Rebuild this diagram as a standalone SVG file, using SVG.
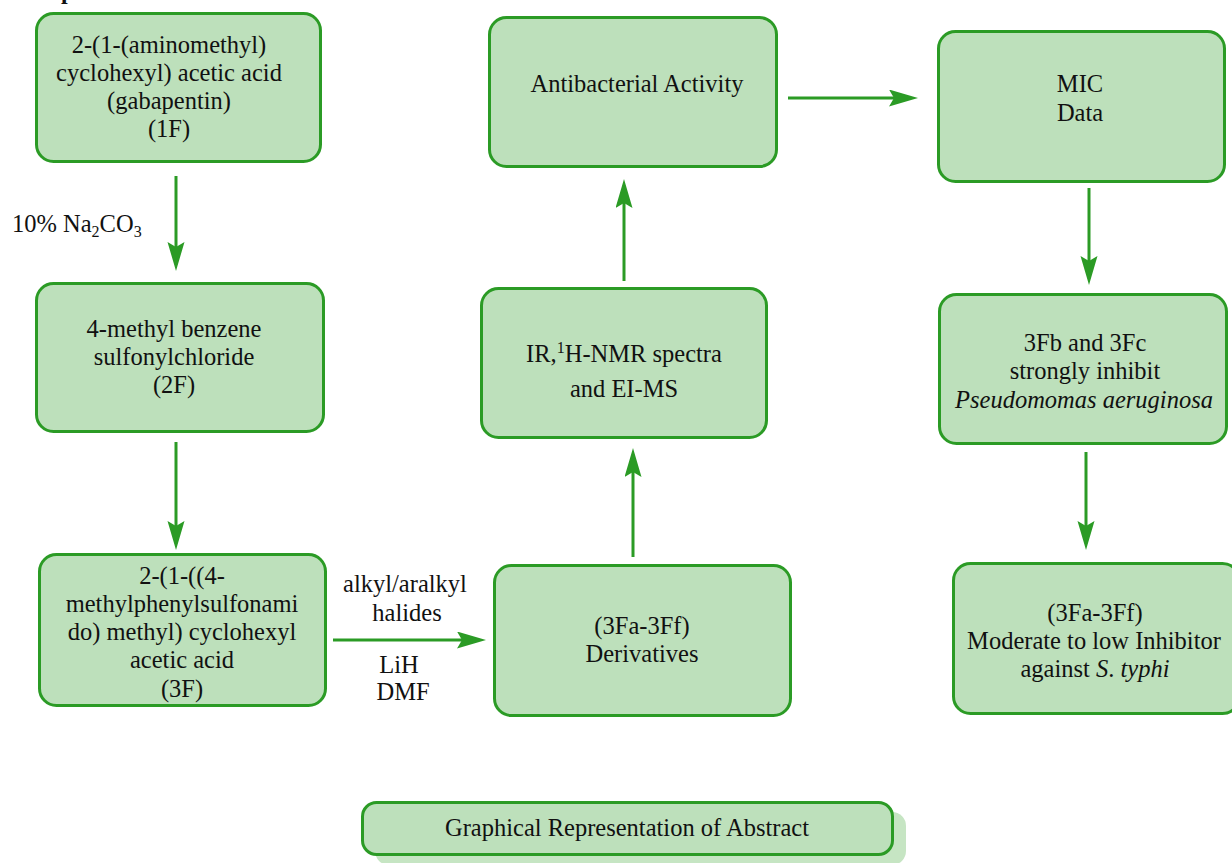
<svg xmlns="http://www.w3.org/2000/svg" width="1232" height="863" viewBox="0 0 1232 863">
<style>
.box{fill:#bde0bb;stroke:#2b9b25;stroke-width:3}
.shadow{fill:#c6e5c3}
.t{font-family:"Liberation Serif","Times New Roman","DejaVu Serif",serif;font-size:24.5px;fill:#111;text-anchor:middle}
.l{font-family:"Liberation Serif","Times New Roman","DejaVu Serif",serif;font-size:24.5px;fill:#111}
.c{stroke:#2b9b25;stroke-width:3;fill:none;marker-end:url(#ah)}
.i{font-style:italic}
</style>
<defs>
<marker id="ah" markerUnits="userSpaceOnUse" markerWidth="30" markerHeight="18" refX="6" refY="8.5" orient="auto">
<path d="M0,0 L29,8.5 L0,17 L5,8.5 Z" fill="#2b9b25"/>
</marker>
</defs>
<rect width="1232" height="863" fill="#ffffff"/>
<text x="61" y="-1" font-family="Liberation Serif, DejaVu Serif, serif" font-weight="bold" font-size="24" fill="#111">p</text>
<g id="connectors">
<line class="c" x1="176" y1="176" x2="176" y2="248"/>
<line class="c" x1="176" y1="442" x2="176" y2="527"/>
<line class="c" x1="333" y1="640" x2="463" y2="640"/>
<line class="c" x1="633" y1="557" x2="633" y2="471"/>
<line class="c" x1="624" y1="281" x2="624" y2="202"/>
<line class="c" x1="788" y1="98" x2="895" y2="98"/>
<line class="c" x1="1089" y1="188" x2="1089" y2="262"/>
<line class="c" x1="1086" y1="452" x2="1086" y2="527"/>
<text class="l" x="12" y="232">10% Na<tspan font-size="16" dy="5">2</tspan><tspan dy="-5">CO</tspan><tspan font-size="16" dy="5">3</tspan></text>
<text class="t" x="405" y="592">alkyl/aralkyl</text>
<text class="t" x="407" y="621">halides</text>
<text class="t" x="399" y="673">LiH</text>
<text class="t" x="403" y="700">DMF</text>
</g>
<g id="n1F">
<rect class="box" x="36.5" y="13.5" width="284" height="148" rx="17"/>
<text class="t" x="169" y="53">2-(1-(aminomethyl)</text>
<text class="t" x="169" y="81">cyclohexyl) acetic acid</text>
<text class="t" x="169" y="109">(gabapentin)</text>
<text class="t" x="169" y="137">(1F)</text>
</g>
<g id="n2F">
<rect class="box" x="36.5" y="283.5" width="287" height="148" rx="17"/>
<text class="t" x="174" y="337">4-methyl benzene</text>
<text class="t" x="174" y="365">sulfonylchloride</text>
<text class="t" x="174" y="393">(2F)</text>
</g>
<g id="n3F">
<rect class="box" x="39.5" y="554.5" width="286" height="151" rx="17"/>
<text class="t" x="182" y="584">2-(1-((4-</text>
<text class="t" x="182" y="612">methylphenylsulfonami</text>
<text class="t" x="182" y="640">do) methyl) cyclohexyl</text>
<text class="t" x="182" y="668">acetic acid</text>
<text class="t" x="182" y="697">(3F)</text>
</g>
<g id="nDeriv">
<rect class="box" x="494.5" y="565.5" width="296" height="150" rx="17"/>
<text class="t" x="642" y="634">(3Fa-3Ff)</text>
<text class="t" x="642" y="662">Derivatives</text>
</g>
<g id="nIR">
<rect class="box" x="481.5" y="288.5" width="285" height="149" rx="17"/>
<text class="t" x="624" y="362">IR,<tspan font-size="16" dy="-9">1</tspan><tspan dy="9">H-NMR spectra</tspan></text>
<text class="t" x="624" y="397">and EI-MS</text>
</g>
<g id="nAnti">
<rect class="box" x="489.5" y="17.5" width="287" height="149" rx="17"/>
<text class="t" x="637" y="92">Antibacterial Activity</text>
</g>
<g id="nMIC">
<rect class="box" x="938.5" y="31.5" width="286" height="150" rx="17"/>
<text class="t" x="1080" y="92">MIC</text>
<text class="t" x="1080" y="121">Data</text>
</g>
<g id="n3Fb">
<rect class="box" x="939.5" y="294.5" width="287" height="149" rx="17"/>
<text class="t" x="1085" y="351">3Fb and 3Fc</text>
<text class="t" x="1085" y="379">strongly inhibit</text>
<text class="t i" x="1084" y="408">Pseudomomas aeruginosa</text>
</g>
<g id="nTyphi">
<rect class="box" x="953.5" y="563.5" width="286" height="150" rx="17"/>
<text class="t" x="1095" y="621">(3Fa-3Ff)</text>
<text class="t" x="1094" y="649">Moderate to low Inhibitor</text>
<text class="t" x="1095" y="677">against <tspan class="i">S</tspan>. <tspan class="i">typhi</tspan></text>
</g>
<g id="nTitle">
<rect class="shadow" x="375" y="812" width="531" height="53" rx="14"/>
<rect class="box" x="362.5" y="802.5" width="530" height="52" rx="14"/>
<text class="t" x="627" y="836">Graphical Representation of Abstract</text>
</g>
</svg>
